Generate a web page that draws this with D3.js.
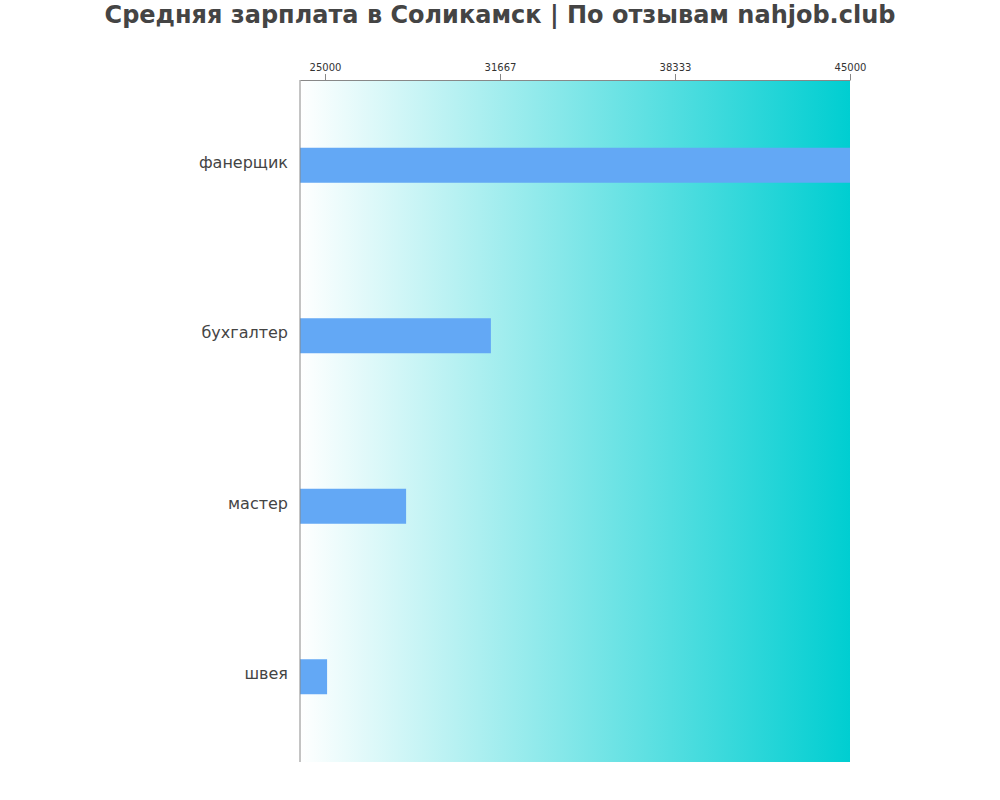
<!DOCTYPE html>
<html><head><meta charset="utf-8">
<script src="https://cdn.jsdelivr.net/npm/d3@7"></script>
<style>body{margin:0;background:#fff;font-family:"DejaVu Sans",sans-serif}</style>
</head><body><div id="chart"></div>
<script>
// chart data
const categories = ['фанерщик', 'бухгалтер', 'мастер', 'швея'];
const salaries = [45000, 31320, 28090, 25080];
const tickValues = [25000, 31667, 38333, 45000];
const chartTitle = 'Средняя зарплата в Соликамск | По отзывам nahjob.club';

const W = 1000, H = 800;
const margin = {top: 80, right: 150, bottom: 38, left: 300},
    width = W - margin.left - margin.right,
    height = H - margin.top - margin.bottom;

const svg = d3.select('#chart').append('svg').attr('width', W).attr('height', H);

svg.append('text')
  .attr('x', W / 2).attr('y', 23)
  .attr('text-anchor', 'middle')
  .attr('font-size', 24).attr('font-weight', 'bold').attr('fill', '#444')
  .text(chartTitle);

const defs = svg.append('defs');
const grad = defs.append('linearGradient').attr('id', 'bg').attr('x1', '0%').attr('x2', '100%');
grad.append('stop').attr('offset', '0%').attr('stop-color', '#ffffff');
grad.append('stop').attr('offset', '100%').attr('stop-color', '#00ced1');

const g = svg.append('g').attr('transform', `translate(${margin.left},${margin.top})`);

const x = d3.scaleLinear().domain([24048, 45000]).range([0, width]);
const y = d3.scaleBand().domain(categories).range([0, height]);
const barH = 35;

g.append('rect').attr('width', width).attr('height', height).attr('fill', 'url(#bg)');

g.selectAll('.bar').data(categories).join('rect')
  .attr('x', 0)
  .attr('y', d => y(d) + y.bandwidth() / 2 - barH / 2)
  .attr('width', (d, i) => x(salaries[i]) - x.range()[0])
  .attr('height', barH)
  .attr('fill', '#63a8f5');

// top axis
const xAxis = g.append('g').call(d3.axisTop(x).tickValues(tickValues).tickFormat(d3.format('d')).tickSizeOuter(0));
xAxis.select('.domain').attr('stroke', '#888');
xAxis.selectAll('.tick line').attr('stroke', '#888');
xAxis.selectAll('text').attr('font-size', 10).attr('fill', '#333').attr('font-family', '"DejaVu Sans"');

// left line + labels
g.append('line').attr('x1', 0).attr('x2', 0).attr('y1', 0).attr('y2', height).attr('stroke', '#888');
g.selectAll('.lbl').data(categories).join('text')
  .attr('x', -12)
  .attr('y', d => y(d) + y.bandwidth() / 2 - 2)
  .attr('text-anchor', 'end').attr('dominant-baseline', 'middle')
  .attr('font-size', 16).attr('fill', '#444')
  .text(d => d);
</script></body></html>
